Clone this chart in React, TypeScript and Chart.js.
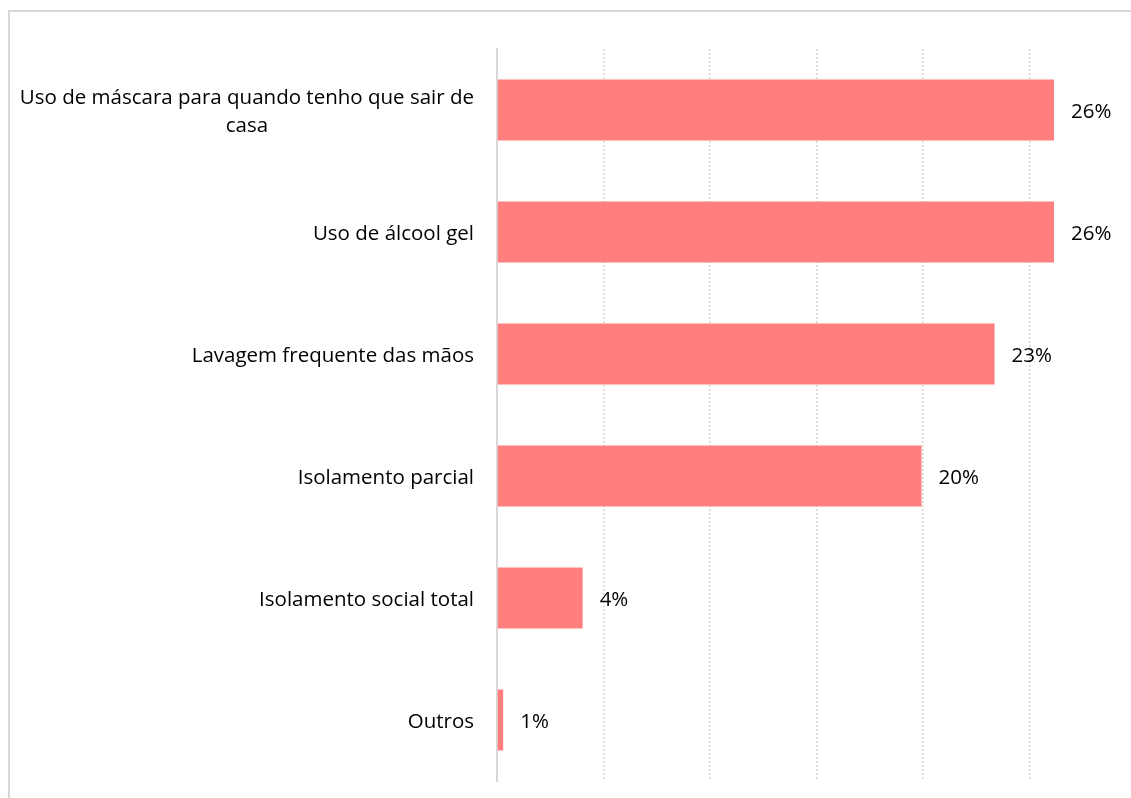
import React, { useEffect, useRef } from "react";
import { Chart, registerables } from "chart.js";

Chart.register(...registerables);

const categories: (string | string[])[] = [
  ["Uso de máscara para quando tenho que sair de", "casa"],
  "Uso de álcool gel",
  "Lavagem frequente das mãos",
  "Isolamento parcial",
  "Isolamento social total",
  "Outros",
];

const values: number[] = [26.15, 26.15, 23.36, 19.93, 4.02, 0.29];
const valueLabels: string[] = ["26%", "26%", "23%", "20%", "4%", "1%"];

const FONT = "'Open Sans', sans-serif";
const FONT_SIZE = 20.5;
const LINE_H = 28;
const TEXT_DY = 2;

const dataLabelPlugin = {
  id: "dataLabels",
  afterDatasetsDraw(chart: any) {
    const ctx = chart.ctx;
    const meta = chart.getDatasetMeta(0);
    ctx.save();
    ctx.font = `${FONT_SIZE}px ${FONT}`;
    ctx.fillStyle = "#000000";
    ctx.textAlign = "left";
    ctx.textBaseline = "middle";
    meta.data.forEach((el: any, i: number) => {
      ctx.fillText(valueLabels[i], el.x + 17, el.y + TEXT_DY);
    });
    ctx.restore();
  },
};

const categoryLabelPlugin = {
  id: "categoryLabels",
  afterDraw(chart: any) {
    const ctx = chart.ctx;
    const yScale = chart.scales.y;
    const rightX = chart.chartArea.left - 23;
    ctx.save();
    ctx.font = `${FONT_SIZE}px ${FONT}`;
    ctx.fillStyle = "#000000";
    ctx.textBaseline = "middle";
    categories.forEach((lab, i) => {
      const lines = Array.isArray(lab) ? lab : [lab];
      const widths = lines.map((l) => ctx.measureText(l).width);
      const blockW = Math.max(...widths);
      const cx = rightX - blockW / 2;
      const yc = yScale.getPixelForValue(i) + TEXT_DY;
      const y0 = yc - ((lines.length - 1) * LINE_H) / 2;
      ctx.textAlign = "center";
      lines.forEach((l, j) => {
        ctx.fillText(l, cx, y0 + j * LINE_H);
      });
    });
    ctx.restore();
  },
};

export default function App() {
  const ref = useRef<HTMLCanvasElement | null>(null);

  useEffect(() => {
    if (!ref.current) return;
    const chart = new Chart(ref.current, {
      type: "bar",
      data: {
        labels: categories,
        datasets: [
          {
            data: values,
            backgroundColor: "#FF7F7F",
            borderWidth: 0,
            barPercentage: 0.5,
            categoryPercentage: 1,
          },
        ],
      },
      options: {
        indexAxis: "y",
        animation: false,
        responsive: false,
        maintainAspectRatio: false,
        layout: { padding: { top: 37, bottom: 21, right: 4, left: 0 } },
        plugins: {
          legend: { display: false },
          tooltip: { enabled: false },
        },
        scales: {
          x: {
            min: 0,
            max: 30,
            ticks: { display: false, stepSize: 5 },
            grid: {
              color: "#d6d6d6",
              lineWidth: 1.5,
              drawTicks: false,
            },
            border: { display: false, dash: [2, 2] },
            afterFit(scale: any) {
              scale.height = 0;
            },
          },
          y: {
            grid: { display: false, drawTicks: false },
            border: { display: true, color: "#d9d9d9", width: 2 },
            ticks: { display: false },
            afterFit(scale: any) {
              scale.width = 487;
            },
          },
        },
      },
      plugins: [dataLabelPlugin, categoryLabelPlugin],
    });
    return () => chart.destroy();
  }, []);

  return (
    <div
      style={{
        position: "fixed",
        left: 8,
        top: 10,
        width: 1140,
        height: 800,
        boxSizing: "border-box",
        border: "2px solid #d9d9d9",
        background: "#ffffff",
      }}
    >
      <canvas ref={ref} width={1130} height={790} style={{ display: "block" }} />
    </div>
  );
}
